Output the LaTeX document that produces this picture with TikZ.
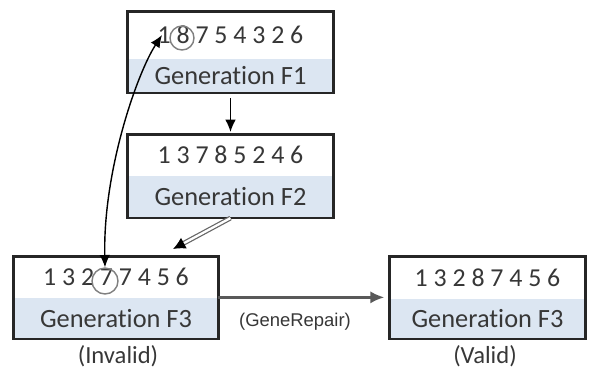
\documentclass[tikz,border=0pt]{standalone}
\usepackage{fontspec}
\setmainfont{Carlito}[Ligatures=NoCommon]
\newfontfamily\arialfont{Liberation Sans}
\usepackage{xcolor}
\usepackage{tikz}
\usetikzlibrary{positioning,arrows.meta}

\definecolor{bandblue}{RGB}{220,230,242}
\definecolor{inkgray}{RGB}{55,55,55}

\tikzset{
    digits/.style={fill=white, minimum width=4.1cm, minimum height=0.8cm, inner sep=0pt, text=inkgray, font=\fontsize{14.7}{17}\selectfont},
    genband/.style={fill=bandblue, minimum width=4.1cm, minimum height=0.82cm, inner sep=0pt, text=inkgray, font=\fontsize{15}{17}\selectfont},
    frame/.style={draw=black!85, line width=1.4pt},
    ring/.style={circle, draw=gray, line width=0.8pt, inner sep=0pt},
    arr/.style={-{Latex[length=7pt,width=6pt]}, line width=0.8pt},
    status/.style={text=inkgray, font=\fontsize{14}{16}\selectfont}
}

\begin{document}
\begin{tikzpicture}
    \useasboundingbox (0,0) rectangle (11.78,-7.52);

    % Generation F1
    \node[digits, minimum height=0.92cm] (f1) at (4.61,-0.70) {1 8 7 5 4 3 2 6};
    \node[genband, below=0pt of f1, minimum height=0.68cm] (f1g) {Generation F1};
    \draw[frame] (f1.north west) rectangle (f1g.south east);

    % Generation F2
    \node[digits] (f2) at (4.61,-3.10) {1 3 7 8 5 2 4 6};
    \node[genband, below=0pt of f2, minimum height=0.84cm] (f2g) {Generation F2};
    \draw[frame] (f2.north west) rectangle (f2g.south east);

    % Generation F3 (invalid)
    \node[digits, minimum width=4.08cm] (f3) at (2.32,-5.54) {1 3 2 7 7 4 5 6};
    \node[genband, below=0pt of f3, minimum width=4.08cm] (f3g) {Generation F3};
    \draw[frame] (f3.north west) rectangle (f3g.south east);
    \node[status] (invalid) at (2.36,-7.12) {(Invalid)};

    % Generation F3 (valid)
    \node[digits, minimum width=3.9cm, minimum height=0.82cm] (f3v) at (9.75,-5.55) {1 3 2 8 7 4 5 6};
    \node[genband, below=0pt of f3v, minimum width=3.9cm, minimum height=0.8cm] (f3vg) {Generation F3};
    \draw[frame] (f3v.north west) rectangle (f3vg.south east);
    \node[status] (valid) at (9.70,-7.12) {(Valid)};

    % Circled genes
    \node[ring, minimum size=0.48cm] (c8) at (3.64,-0.76) {};
    \node[ring, minimum size=0.52cm] (c7) at (2.10,-5.62) {};
    \coordinate (one1) at (3.24,-0.70);
    \coordinate (mergein) at (3.46,-4.98);

    % Arrows
    \draw[arr, shorten <=3pt, shorten >=1.5pt] (f1g.south) -- (f2.north);
    \draw[-{Latex[length=7pt,width=7pt,black]}, draw=black!60, double=white, double distance=1.3pt, line width=0.7pt] (f2g.south) -- (mergein);
    \draw[{Latex[length=7pt,width=6pt]}-{Latex[length=7pt,width=6pt]}, line width=0.8pt] (one1) .. controls (2.75,-1.45) and (2.06,-3.4) .. (c7.north);
    \draw[-{Latex[length=8pt,width=7pt]}, draw=black!65, line width=1.5pt, shorten >=3pt] (f3.south east) -- (f3.south east -| f3v.west);
    \node[text=inkgray, font=\arialfont\fontsize{10.5}{12}\selectfont] (repair) at (5.90,-6.44) {(GeneRepair)};

\end{tikzpicture}
\end{document}
